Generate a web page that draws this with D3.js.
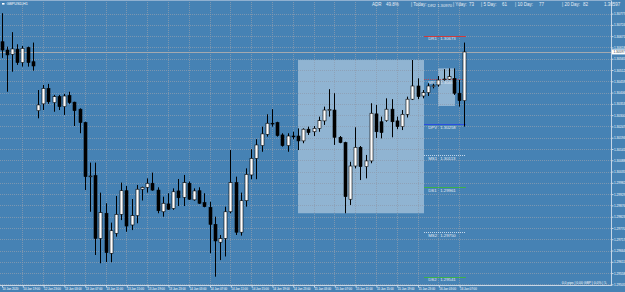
<!DOCTYPE html>
<html>
<head>
<meta charset="utf-8">
<script src="https://cdn.jsdelivr.net/npm/d3@7"></script>
<style>
  html, body { margin: 0; padding: 0; background: #4682b4; overflow: hidden; }
  svg { display: block; }
  text { font-family: "Liberation Sans", Arial, sans-serif; }
</style>
</head>
<body>
<div id="chart"></div>
<script>
// GBPUSD H1 bars, 10 Jan 15:00 .. 16 Jan 08:00
const openPrices = [
  1.30645, 1.30606, 1.30586, 1.30610, 1.30547, 1.30617, 1.30551, 1.30321, 1.30353, 1.30426,
  1.30359, 1.30387, 1.30340, 1.30392, 1.30361, 1.30328, 1.30265, 1.30011, 1.30016, 1.29721,
  1.29839, 1.29651, 1.29745, 1.29834, 1.29945, 1.29784, 1.29828, 1.29952, 1.29961, 1.29980,
  1.29948, 1.29846, 1.29883, 1.29862, 1.29944, 1.29914, 1.29980, 1.29902, 1.29945, 1.29889,
  1.29867, 1.29787, 1.29703, 1.29721, 1.29846, 1.29983, 1.29750, 1.29898, 1.30019, 1.30097,
  1.30157, 1.30210, 1.30262, 1.30265, 1.30207, 1.30157, 1.30202, 1.30202, 1.30179, 1.30234,
  1.30222, 1.30238, 1.30273, 1.30324, 1.30324, 1.30196, 1.30171, 1.29905, 1.30061, 1.30149,
  1.30058, 1.30085, 1.30306, 1.30269, 1.30274, 1.30328, 1.30273, 1.30246, 1.30304, 1.30375,
  1.30437, 1.30390, 1.30406, 1.30437, 1.30442, 1.30468, 1.30469, 1.30473, 1.30403, 1.30368
];
const highPrices = [
  1.30779, 1.30622, 1.30690, 1.30633, 1.30625, 1.30622, 1.30641, 1.30418, 1.30442, 1.30447,
  1.30395, 1.30395, 1.30400, 1.30410, 1.30363, 1.30332, 1.30269, 1.30077, 1.30077, 1.29936,
  1.29886, 1.29795, 1.29920, 1.29983, 1.29967, 1.29906, 1.29972, 1.29964, 1.30003, 1.30030,
  1.29961, 1.29917, 1.29933, 1.29956, 1.30000, 1.30019, 1.29988, 1.29956, 1.29961, 1.29933,
  1.29893, 1.29823, 1.29737, 1.29870, 1.30136, 1.30011, 1.29936, 1.30050, 1.30140, 1.30187,
  1.30246, 1.30304, 1.30328, 1.30269, 1.30215, 1.30215, 1.30222, 1.30238, 1.30238, 1.30246,
  1.30249, 1.30293, 1.30340, 1.30422, 1.30403, 1.30202, 1.30175, 1.30081, 1.30243, 1.30155,
  1.30113, 1.30356, 1.30348, 1.30293, 1.30379, 1.30375, 1.30293, 1.30324, 1.30387, 1.30559,
  1.30473, 1.30418, 1.30450, 1.30447, 1.30484, 1.30516, 1.30520, 1.30520, 1.30465, 1.30641
];
const lowPrices = [
  1.30569, 1.30410, 1.30504, 1.30536, 1.30528, 1.30528, 1.30509, 1.30285, 1.30324, 1.30353,
  1.30316, 1.30324, 1.30301, 1.30353, 1.30249, 1.30215, 1.29948, 1.29846, 1.29643, 1.29604,
  1.29610, 1.29609, 1.29729, 1.29807, 1.29752, 1.29760, 1.29792, 1.29899, 1.29936, 1.29945,
  1.29839, 1.29823, 1.29855, 1.29855, 1.29873, 1.29873, 1.29902, 1.29898, 1.29883, 1.29867,
  1.29651, 1.29541, 1.29619, 1.29636, 1.29839, 1.29737, 1.29734, 1.29870, 1.29999, 1.29999,
  1.30128, 1.30199, 1.30246, 1.30199, 1.30152, 1.30128, 1.30187, 1.30136, 1.30168, 1.30207,
  1.30202, 1.30222, 1.30254, 1.30293, 1.30160, 1.30168, 1.29839, 1.29878, 1.30050, 1.29995,
  1.30003, 1.30074, 1.30193, 1.30191, 1.30269, 1.30196, 1.30234, 1.30230, 1.30289, 1.30371,
  1.30375, 1.30379, 1.30390, 1.30426, 1.30434, 1.30462, 1.30465, 1.30395, 1.30340, 1.30246
];
const closePrices = [
  1.30606, 1.30583, 1.30611, 1.30547, 1.30614, 1.30547, 1.30531, 1.30348, 1.30426, 1.30363,
  1.30387, 1.30340, 1.30390, 1.30359, 1.30321, 1.30265, 1.30011, 1.30014, 1.29721, 1.29842,
  1.29654, 1.29757, 1.29834, 1.29945, 1.29779, 1.29828, 1.29952, 1.29961, 1.29980, 1.29948,
  1.29851, 1.29886, 1.29858, 1.29940, 1.29912, 1.29983, 1.29905, 1.29944, 1.29886, 1.29870,
  1.29787, 1.29709, 1.29720, 1.29846, 1.29983, 1.29750, 1.29898, 1.30022, 1.30097, 1.30160,
  1.30212, 1.30262, 1.30261, 1.30204, 1.30157, 1.30202, 1.30201, 1.30179, 1.30234, 1.30218,
  1.30238, 1.30274, 1.30324, 1.30326, 1.30196, 1.30171, 1.29917, 1.30061, 1.30149, 1.30058,
  1.30085, 1.30309, 1.30222, 1.30218, 1.30328, 1.30269, 1.30246, 1.30304, 1.30375, 1.30437,
  1.30387, 1.30406, 1.30437, 1.30438, 1.30465, 1.30470, 1.30481, 1.30403, 1.30368, 1.30597
];

// time axis: bar index of each label, and its text
const timeTickBars = [0, 4, 8, 12, 16, 20, 24, 28, 32, 36, 40, 44, 48, 52, 56, 60, 64, 68, 72, 76, 80, 84, 88];
const timeLabels = [
  '10 Jan 2020', '10 Jan 19:00', '12 Jan 23:00', '13 Jan 03:00', '13 Jan 07:00', '13 Jan 11:00',
  '13 Jan 15:00', '13 Jan 19:00', '13 Jan 23:00', '14 Jan 03:00', '14 Jan 07:00', '14 Jan 11:00',
  '14 Jan 15:00', '14 Jan 19:00', '14 Jan 23:00', '15 Jan 03:00', '15 Jan 07:00', '15 Jan 11:00',
  '15 Jan 15:00', '15 Jan 19:00', '15 Jan 23:00', '16 Jan 03:00', '16 Jan 07:00'
];

// price axis labels
const priceTicks = [
  1.29505, 1.29558, 1.29611, 1.29664, 1.29717, 1.29770, 1.29823, 1.29876, 1.29929, 1.29982,
  1.30035, 1.30088, 1.30141, 1.30194, 1.30247, 1.30300, 1.30353, 1.30406, 1.30459, 1.30512,
  1.30565, 1.30618, 1.30671, 1.30724, 1.30777
];

// daily pivot levels for 16 Jan
const pivotNames = ['DR1', 'MR1', 'DPV', 'MS1', 'DS1', 'MS2', 'DS2'];
const pivotValues = [1.30673, 1.30468, 1.30258, 1.30113, 1.29961, 1.29750, 1.29541];
const pivotR2 = 1.30970;
const pivotStartBar = 81;

// range boxes: [first bar, last bar, high, low]
const rangeBoxes = [[57, 81, 1.30559, 1.29839], [84, 87, 1.30520, 1.30343]];

const bidPrice = 1.30597;
const headerItems = [
  ['ADR', 372], ['49.8%', 386], ['| Today:', 411], ['| Yday:', 453], ['73', 469],
  ['| 5 Day:', 481], ['61', 502], ['| 10 Day:', 515], ['77', 539], ['| 20 Day:', 562], ['82', 583],
  ['1.30597', 604]
];

const width = 625;
const height = 292;
const plotRight = 611;
const plotBottom = 285;

const svg = d3.select('#chart').append('svg')
  .attr('width', width)
  .attr('height', height);

svg.append('rect').attr('width', width).attr('height', height).attr('fill', '#4682b4');

svg.append('clipPath').attr('id', 'plot-clip')
  .append('rect').attr('width', plotRight).attr('height', plotBottom);

const x = d3.scaleLinear().domain([0, 89]).range([1.5, 464.3]);
const y = d3.scaleLinear().domain([1.29502, 1.30841]).range([plotBottom, 0]);
const px = (i) => Math.round(x(i));

const plot = svg.append('g').attr('clip-path', 'url(#plot-clip)');

// range boxes
plot.selectAll('rect.range-box')
  .data(rangeBoxes)
  .join('rect')
  .attr('class', 'range-box')
  .attr('x', (d) => px(d[0]))
  .attr('y', (d) => y(d[2]))
  .attr('width', (d) => px(d[1]) - px(d[0]) + 1)
  .attr('height', (d) => y(d[3]) - y(d[2]))
  .attr('fill', '#ffffff')
  .attr('fill-opacity', 0.4);

// grid
const gridColor = '#8d9caf';
plot.selectAll('line.hgrid')
  .data(priceTicks)
  .join('line')
  .attr('x1', 0).attr('x2', plotRight)
  .attr('y1', (d) => Math.round(y(d)) + 0.5)
  .attr('y2', (d) => Math.round(y(d)) + 0.5)
  .attr('stroke', gridColor)
  .attr('stroke-opacity', 0.75)
  .attr('stroke-dasharray', '1,1');

plot.selectAll('line.vgrid')
  .data(timeTickBars.slice(1))
  .join('line')
  .attr('y1', 0).attr('y2', plotBottom)
  .attr('x1', (d) => px(d) + 0.5)
  .attr('x2', (d) => px(d) + 0.5)
  .attr('stroke', gridColor)
  .attr('stroke-opacity', 0.75)
  .attr('stroke-dasharray', '1,1');

// bid line
plot.append('line')
  .attr('x1', 0).attr('x2', plotRight)
  .attr('y1', Math.round(y(bidPrice)) + 0.5)
  .attr('y2', Math.round(y(bidPrice)) + 0.5)
  .attr('stroke', '#a4a9b0');

// pivots
const pivotColor = (name) => {
  if (name === 'DPV') return '#2a4fe0';
  if (name[1] === 'R') return '#d03a3a';
  if (name[0] === 'D') return '#3cb04a';
  return '#e6eef6';
};
const pivots = pivotNames.map((name, i) => ({ name, value: pivotValues[i] }));

plot.selectAll('line.pivot')
  .data(pivots)
  .join('line')
  .attr('x1', x(pivotStartBar + 0.25))
  .attr('x2', x(89.3))
  .attr('y1', (d) => Math.round(y(d.value)) + 0.5)
  .attr('y2', (d) => Math.round(y(d.value)) + 0.5)
  .attr('stroke', (d) => pivotColor(d.name))
  .attr('stroke-width', (d) => (d.name[0] === 'M' ? 0.8 : 1))
  .attr('stroke-dasharray', (d) => (d.name[0] === 'M' ? '1,1' : null));

const pivotText = plot.selectAll('g.pivot-label')
  .data(pivots)
  .join('g')
  .attr('transform', (d) => `translate(${x(pivotStartBar) + 5.5}, ${y(d.value) + 4.6})`)
  .attr('fill', '#e4ebf3')
  .style('font-size', '4.3px');
pivotText.append('text').text((d) => d.name);
pivotText.append('text').attr('x', 12).text((d) => d.value.toFixed(5));

// candles
const bars = openPrices.map((o, i) => ({
  i, o, h: highPrices[i], l: lowPrices[i], c: closePrices[i]
}));

plot.selectAll('line.wick')
  .data(bars)
  .join('line')
  .attr('x1', (d) => px(d.i) + 0.5)
  .attr('x2', (d) => px(d.i) + 0.5)
  .attr('y1', (d) => y(d.h))
  .attr('y2', (d) => y(d.l))
  .attr('stroke', '#000');

plot.selectAll('rect.body')
  .data(bars)
  .join('rect')
  .attr('x', (d) => px(d.i) - 1)
  .attr('width', 3)
  .attr('y', (d) => y(Math.max(d.o, d.c)))
  .attr('height', (d) => Math.max(0.8, Math.abs(y(d.o) - y(d.c))))
  .attr('fill', (d) => (d.c >= d.o ? '#ffffff' : '#000000'))
  .attr('stroke', '#000')
  .attr('stroke-width', 0.6);

// frame
svg.append('line')
  .attr('x1', plotRight + 0.5).attr('x2', plotRight + 0.5)
  .attr('y1', 0).attr('y2', plotBottom + 1)
  .attr('stroke', '#c6d6e6');
svg.append('line')
  .attr('x1', 0).attr('x2', plotRight + 1)
  .attr('y1', plotBottom + 0.5).attr('y2', plotBottom + 0.5)
  .attr('stroke', '#c6d6e6');
svg.append('line')
  .attr('x1', 0).attr('x2', plotRight + 1)
  .attr('y1', 0.5).attr('y2', 0.5)
  .attr('stroke', '#8fb0d0');

// axes
const yAxis = d3.axisRight(y)
  .tickValues(priceTicks)
  .tickSize(2)
  .tickPadding(0.5)
  .tickFormat(d3.format('.5f'));
const yAxisGroup = svg.append('g')
  .attr('transform', `translate(${plotRight + 0.5}, 0)`)
  .call(yAxis);
yAxisGroup.select('.domain').remove();
yAxisGroup.selectAll('line').attr('stroke', '#c6d6e6');
yAxisGroup.selectAll('text').attr('fill', '#ffffff').style('font-size', '3.1px').attr('dy', '0.35em');

const xAxis = d3.axisBottom(x)
  .tickValues(timeTickBars)
  .tickSize(2)
  .tickPadding(0.5)
  .tickFormat((d, i) => timeLabels[i]);
const xAxisGroup = svg.append('g')
  .attr('transform', `translate(0.5, ${plotBottom + 0.5})`)
  .call(xAxis);
xAxisGroup.select('.domain').remove();
xAxisGroup.selectAll('line').attr('stroke', '#c6d6e6');
xAxisGroup.selectAll('text')
  .attr('fill', '#ffffff')
  .attr('text-anchor', 'start')
  .style('font-size', '2.9px');

// bid marker on the price scale
const bidY = y(bidPrice);
svg.append('rect')
  .attr('x', plotRight + 1).attr('y', bidY - 2.5)
  .attr('width', 14).attr('height', 5)
  .attr('fill', '#ffffff');
svg.append('text')
  .attr('x', plotRight + 2.5).attr('y', bidY + 1.1)
  .attr('fill', '#1a2a3a')
  .style('font-size', '3.1px')
  .text(bidPrice.toFixed(5));

// symbol caption
svg.append('rect').attr('x', 2).attr('y', 3).attr('width', 2.5).attr('height', 1.6).attr('fill', '#ffffff');
svg.append('text')
  .attr('x', 6.5).attr('y', 5.4)
  .attr('fill', '#ffffff')
  .style('font-size', '3.7px')
  .text('GBPUSD,H1');

// info header
svg.append('g')
  .selectAll('text')
  .data(headerItems)
  .join('text')
  .attr('x', (d) => d[1])
  .attr('y', 6)
  .attr('fill', '#e8eef5')
  .style('font-size', '4.5px')
  .text((d) => d[0]);

// R2 level is above the visible range, its label sits at the top
const r2Label = svg.append('g')
  .attr('transform', `translate(${x(pivotStartBar) + 5}, ${Math.max(y(pivotR2), 0) + 6.8})`)
  .attr('fill', '#e4ebf3')
  .style('font-size', '4.1px');
r2Label.append('text').text('DR2');
r2Label.append('text').attr('x', 9.5).text(pivotR2.toFixed(5));

// account line
svg.append('text')
  .attr('x', 607).attr('y', 284)
  .attr('text-anchor', 'end')
  .attr('fill', '#ffffff')
  .style('font-size', '3.4px')
  .text('0.0 pips | 0.00 GBP | 0.0% | 5.');
</script>
</body>
</html>
